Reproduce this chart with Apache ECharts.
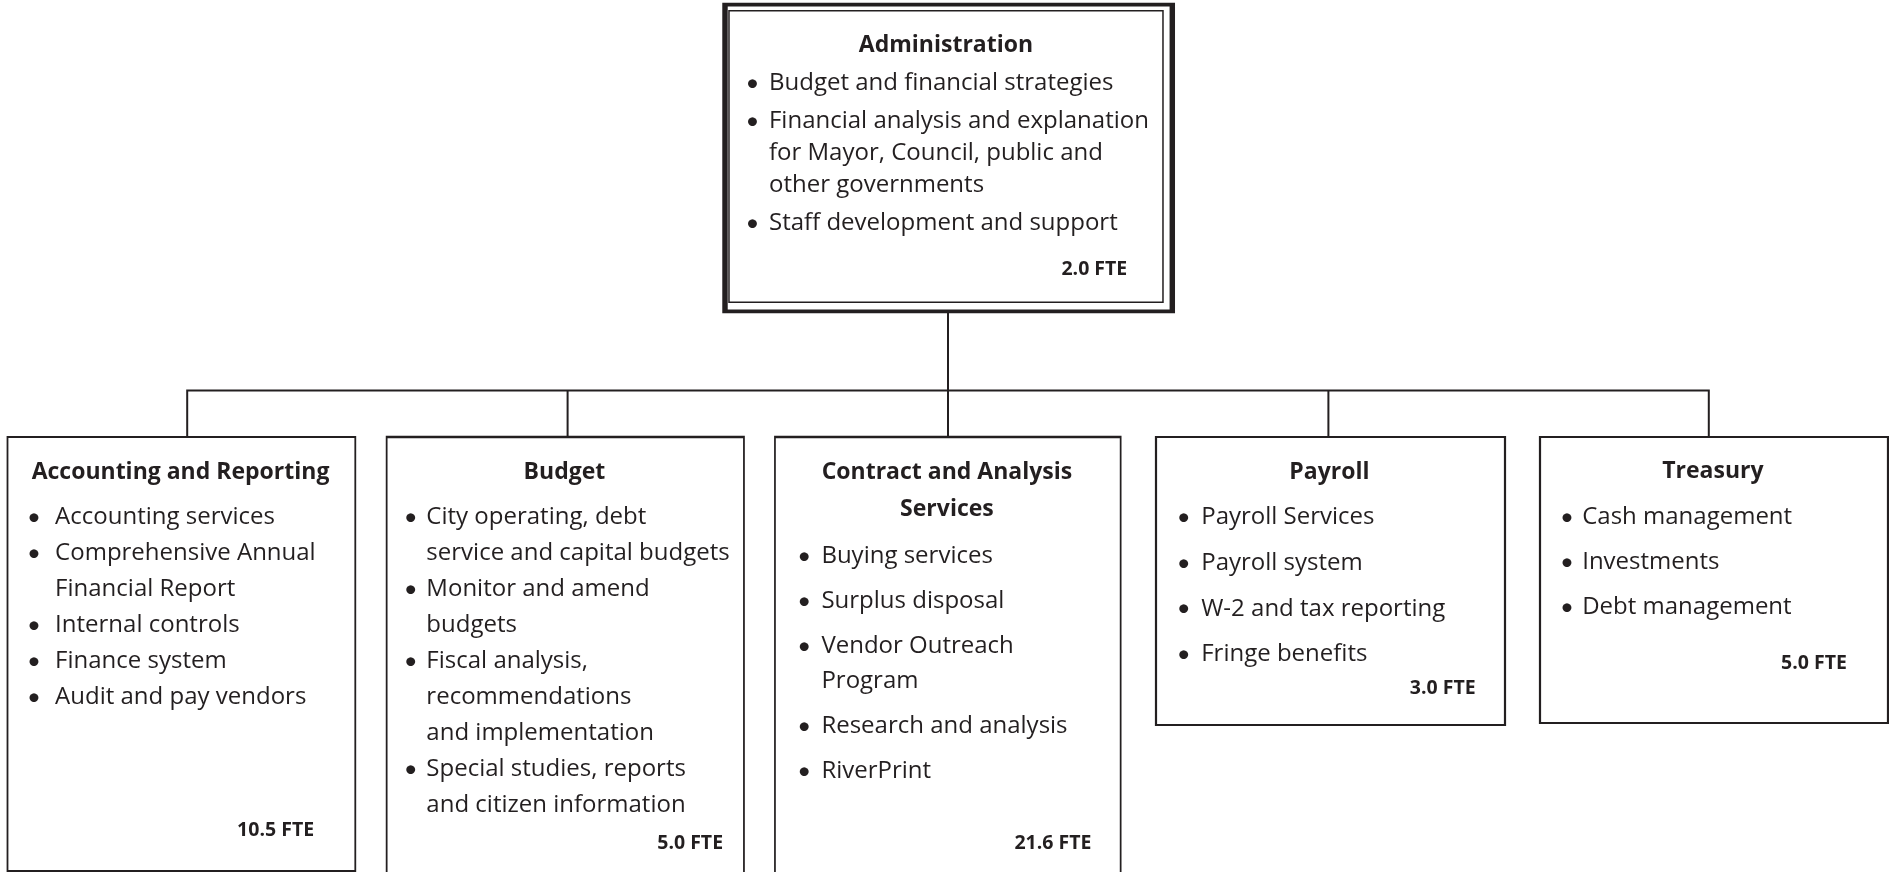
<!DOCTYPE html>
<html>
<head>
<meta charset="utf-8">
<title>Finance Department Organization</title>
<script src="https://cdn.jsdelivr.net/npm/echarts@6/dist/echarts.min.js"></script>
<style>
  html, body { margin: 0; padding: 0; background: #fff; }
  #chart { width: 1889px; height: 872px; }
</style>
</head>
<body>
<div id="chart"></div>
<script>
// org chart content
const rootName = 'Administration';
const rootDuties = [
  ['Budget and financial strategies'],
  ['Financial analysis and explanation', 'for Mayor, Council, public and', 'other governments'],
  ['Staff development and support']
];
const rootFte = 2.0;

const divisionNames = ['Accounting and Reporting', 'Budget', 'Contract and Analysis\nServices', 'Payroll', 'Treasury'];
const divisionDuties = [
  [['Accounting services'], ['Comprehensive Annual', 'Financial Report'], ['Internal controls'], ['Finance system'], ['Audit and pay vendors']],
  [['City operating, debt', 'service and capital budgets'], ['Monitor and amend', 'budgets'], ['Fiscal analysis,', 'recommendations', 'and implementation'], ['Special studies, reports', 'and citizen information']],
  [['Buying services'], ['Surplus disposal'], ['Vendor Outreach', 'Program'], ['Research and analysis'], ['RiverPrint']],
  [['Payroll Services'], ['Payroll system'], ['W-2 and tax reporting'], ['Fringe benefits']],
  [['Cash management'], ['Investments'], ['Debt management']]
];
const divisionFte = [10.5, 5.0, 21.6, 3.0, 5.0];

const ink = '#231f20';
const font = 'Open Sans';
const bodySize = 24;
const titleSize = 23;
const fteSize = 19.5;

// box sizes and text spacing (px)
const rootBox = { w: 447.3, h: 306.6, border: 4.5, dx: 0.65, innerX: 6.7, innerY: 8, innerW: 434, innerH: 291.3,
  padL: 16.5, padTop: 16.2, bulletW: 23.5, titleLH: 36, gapTitle: 4.3, lineH: 32, itemGap: 6, gapFte: 18.5, fteInset: 19.2 };
const divisionBoxes = [
  { w: 347.8, h: 434, dx: -5.8, padL: 20.3, bulletW: 28.2, padTop: 18.2, titleLH: 36, gapTitle: 9, lineH: 36, itemGap: 0, gapFte: 103.5, fteInset: 20 },
  { w: 357.3, h: 460, dx: -2.3, padL: 18.1, bulletW: 22.5, padTop: 18.2, titleLH: 36, gapTitle: 9, lineH: 36, itemGap: 0, gapFte: 8.5, fteInset: 1.9 },
  { w: 345.7, h: 460, dx: -0.2, padL: 23.2, bulletW: 24.1, padTop: 17.7, titleLH: 37, gapTitle: 11, lineH: 35, itemGap: 10, gapFte: 43, fteInset: 5.2 },
  { w: 349, h: 288, dx: 2.1, padL: 21.8, bulletW: 24.5, padTop: 18.2, titleLH: 36, gapTitle: 9, lineH: 36, itemGap: 9.7, gapFte: 4.4, fteInset: 6.5 },
  { w: 348, h: 286, dx: 5.2, padL: 21.2, bulletW: 22.1, padTop: 16.9, titleLH: 36, gapTitle: 11.1, lineH: 35, itemGap: 9.6, gapFte: 27.5, fteInset: 18.8 }
];

function makeText(titleLines, duties, fte, s) {
  const lines = [];
  titleLines.forEach(t => lines.push('{title|' + t + '}'));
  lines.push('{gapT| }');
  duties.forEach((item, i) => {
    if (i > 0 && s.itemGap) lines.push('{gapI| }');
    item.forEach((ln, j) => lines.push((j === 0 ? '{b|•}' : '{nb| }') + '{t|' + ln + '}'));
  });
  lines.push('{gapF| }');
  lines.push('{fte|' + fte.toFixed(1) + ' FTE}');
  const base = { fontFamily: font, color: ink };
  return {
    formatter: lines.join('\n'),
    rich: {
      title: { ...base, fontWeight: 'bold', fontSize: titleSize, lineHeight: s.titleLH, align: 'center' },
      // Lato gives a rounder, larger bullet dot
      b: { ...base, fontFamily: 'Lato', fontSize: bodySize, lineHeight: s.lineH, width: s.bulletW, align: 'left' },
      nb: { ...base, fontSize: bodySize, lineHeight: s.lineH, width: s.bulletW, align: 'left' },
      t: { ...base, fontSize: bodySize, lineHeight: s.lineH, align: 'left' },
      gapT: { ...base, fontSize: 1, lineHeight: s.gapTitle },
      gapI: { ...base, fontSize: 1, lineHeight: s.itemGap },
      gapF: { ...base, fontSize: 1, lineHeight: s.gapFte },
      fte: { ...base, fontWeight: 'bold', fontSize: fteSize, lineHeight: 24, align: 'right', padding: [0, s.fteInset, 0, 0] }
    }
  };
}

const children = divisionNames.map((name, i) => {
  const s = divisionBoxes[i];
  const txt = makeText(name.split('\n'), divisionDuties[i], divisionFte[i], s);
  return {
    name: name,
    value: divisionFte[i],
    symbol: 'rect',
    symbolSize: [s.w, s.h],
    symbolOffset: [s.dx, s.h / 2],
    itemStyle: { color: '#fff', borderColor: ink, borderWidth: 2 },
    label: {
      show: true,
      position: [s.padL, s.padTop],
      align: 'left',
      verticalAlign: 'top',
      width: s.w - 2 * s.padL,
      formatter: txt.formatter,
      rich: txt.rich
    }
  };
});

const rootTxt = makeText([rootName], rootDuties, rootFte, rootBox);
const root = {
  name: rootName,
  value: rootFte,
  symbol: 'rect',
  symbolSize: [rootBox.w, rootBox.h],
  symbolOffset: [rootBox.dx, -rootBox.h / 2],
  itemStyle: { color: '#fff', borderColor: ink, borderWidth: rootBox.border },
  label: {
    show: true,
    position: [rootBox.innerX, rootBox.innerY],
    align: 'left',
    verticalAlign: 'top',
    width: rootBox.innerW - 2 * rootBox.padL,
    height: rootBox.innerH - rootBox.padTop,
    padding: [rootBox.padTop, rootBox.padL, 0, rootBox.padL],
    borderColor: ink,
    borderWidth: 1.5,
    formatter: rootTxt.formatter,
    rich: rootTxt.rich
  },
  children: children
};

const myChart = echarts.init(document.getElementById('chart'));
myChart.setOption({
  animation: false,
  backgroundColor: '#fff',
  textStyle: { fontFamily: font },
  series: [
    {
      type: 'tree',
      data: [root],
      orient: 'TB',
      layout: 'orthogonal',
      edgeShape: 'polyline',
      edgeForkPosition: '63%',
      left: -3,
      width: 1902,
      top: 311.3,
      height: 125.7,
      roam: false,
      expandAndCollapse: false,
      silent: true,
      emphasis: { disabled: true },
      lineStyle: { color: ink, width: 2, curveness: 0 }
    }
  ]
});
</script>
</body>
</html>
